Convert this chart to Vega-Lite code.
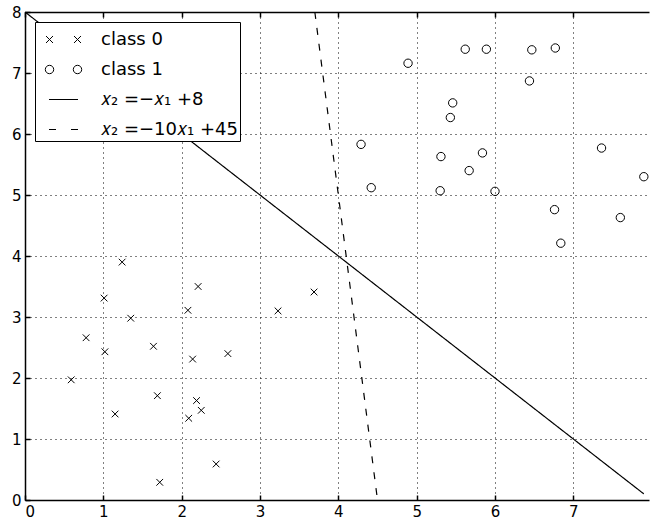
{
  "$schema": "https://vega.github.io/schema/vega-lite/v6.json",
  "width": 624,
  "height": 488,
  "autosize": {"type": "none"},
  "padding": {"left": 25, "top": 12, "right": 1, "bottom": 24},
  "background": "white",
  "config": {
    "view": {"stroke": null},
    "axis": {
      "domainColor": "black",
      "domainWidth": 1.5,
      "tickColor": "black",
      "tickWidth": 1.5,
      "tickSize": -5,
      "labelColor": "black",
      "labelFont": "DejaVu Sans",
      "labelFontSize": 15,
      "labelPadding": 9,
      "gridColor": "black",
      "gridDash": [1, 4],
      "gridOpacity": 1,
      "gridWidth": 1
    }
  },
  "datasets": {
    "samples": [
      {"x1": 1.24, "x2": 3.9, "cls": "class 0"},
      {"x1": 1.01, "x2": 3.31, "cls": "class 0"},
      {"x1": 2.21, "x2": 3.5, "cls": "class 0"},
      {"x1": 2.08, "x2": 3.11, "cls": "class 0"},
      {"x1": 3.23, "x2": 3.1, "cls": "class 0"},
      {"x1": 3.69, "x2": 3.41, "cls": "class 0"},
      {"x1": 1.35, "x2": 2.98, "cls": "class 0"},
      {"x1": 0.78, "x2": 2.66, "cls": "class 0"},
      {"x1": 1.02, "x2": 2.43, "cls": "class 0"},
      {"x1": 1.64, "x2": 2.52, "cls": "class 0"},
      {"x1": 2.14, "x2": 2.31, "cls": "class 0"},
      {"x1": 2.59, "x2": 2.4, "cls": "class 0"},
      {"x1": 0.59, "x2": 1.97, "cls": "class 0"},
      {"x1": 1.69, "x2": 1.71, "cls": "class 0"},
      {"x1": 1.15, "x2": 1.41, "cls": "class 0"},
      {"x1": 2.19, "x2": 1.63, "cls": "class 0"},
      {"x1": 2.25, "x2": 1.47, "cls": "class 0"},
      {"x1": 2.09, "x2": 1.34, "cls": "class 0"},
      {"x1": 2.44, "x2": 0.59, "cls": "class 0"},
      {"x1": 1.72, "x2": 0.29, "cls": "class 0"},
      {"x1": 4.89, "x2": 7.16, "cls": "class 1"},
      {"x1": 5.62, "x2": 7.39, "cls": "class 1"},
      {"x1": 5.89, "x2": 7.39, "cls": "class 1"},
      {"x1": 6.47, "x2": 7.38, "cls": "class 1"},
      {"x1": 6.77, "x2": 7.41, "cls": "class 1"},
      {"x1": 6.44, "x2": 6.87, "cls": "class 1"},
      {"x1": 5.46, "x2": 6.51, "cls": "class 1"},
      {"x1": 5.43, "x2": 6.27, "cls": "class 1"},
      {"x1": 4.29, "x2": 5.83, "cls": "class 1"},
      {"x1": 5.31, "x2": 5.63, "cls": "class 1"},
      {"x1": 5.84, "x2": 5.69, "cls": "class 1"},
      {"x1": 5.67, "x2": 5.4, "cls": "class 1"},
      {"x1": 4.42, "x2": 5.12, "cls": "class 1"},
      {"x1": 5.3, "x2": 5.07, "cls": "class 1"},
      {"x1": 6.0, "x2": 5.06, "cls": "class 1"},
      {"x1": 7.36, "x2": 5.77, "cls": "class 1"},
      {"x1": 7.9, "x2": 5.3, "cls": "class 1"},
      {"x1": 6.76, "x2": 4.76, "cls": "class 1"},
      {"x1": 7.6, "x2": 4.63, "cls": "class 1"},
      {"x1": 6.84, "x2": 4.21, "cls": "class 1"}
    ],
    "boundaries": [
      {"x1": 0, "x2": 8, "eq": "𝑥₂ =−𝑥₁ +8"},
      {"x1": 7.9, "x2": 0.1, "eq": "𝑥₂ =−𝑥₁ +8"},
      {"x1": 3.7, "x2": 8, "eq": "𝑥₂ =−10𝑥₁ +45"},
      {"x1": 4.5, "x2": 0, "eq": "𝑥₂ =−10𝑥₁ +45"}
    ],
    "entries": [
      {"entry": "class 0"},
      {"entry": "class 1"},
      {"entry": "𝑥₂ =−𝑥₁ +8"},
      {"entry": "𝑥₂ =−10𝑥₁ +45  "}
    ]
  },
  "resolve": {"axis": {"x": "independent"}},
  "layer": [
    {
      "data": {"name": "boundaries"},
      "mark": {"type": "line", "color": "black", "strokeWidth": 1.2},
      "encoding": {
        "x": {
          "field": "x1", "type": "quantitative",
          "scale": {"domain": [0, 7.966], "nice": false, "zero": false},
          "axis": {"orient": "top", "labels": false, "grid": false, "values": [0, 1, 2, 3, 4, 5, 6, 7], "title": null}
        },
        "y": {
          "field": "x2", "type": "quantitative",
          "scale": {"domain": [0, 8], "nice": false, "zero": false},
          "axis": {"values": [0, 1, 2, 3, 4, 5, 6, 7, 8], "format": "d", "grid": true, "title": null}
        },
        "strokeDash": {
          "field": "eq", "type": "nominal",
          "scale": {"domain": ["𝑥₂ =−𝑥₁ +8", "𝑥₂ =−10𝑥₁ +45"], "range": [[1, 0], [7, 9]]},
          "legend": null
        }
      }
    },
    {
      "data": {"name": "samples"},
      "transform": [{"filter": "datum.cls === 'class 0'"}],
      "mark": {"type": "point", "shape": "M-0.8,-0.8L0.8,0.8M-0.8,0.8L0.8,-0.8", "filled": false, "stroke": "black", "strokeWidth": 1, "size": 70, "opacity": 1},
      "encoding": {
        "x": {
          "field": "x1", "type": "quantitative",
          "scale": {"domain": [0, 7.966], "nice": false, "zero": false},
          "axis": {"orient": "bottom", "grid": true, "values": [0, 1, 2, 3, 4, 5, 6, 7], "format": "d", "title": null}
        },
        "y": {
          "field": "x2", "type": "quantitative",
          "scale": {"domain": [0, 8], "nice": false, "zero": false},
          "axis": {"values": [0, 1, 2, 3, 4, 5, 6, 7, 8], "format": "d", "grid": true, "title": null}
        }
      }
    },
    {
      "data": {"name": "samples"},
      "transform": [{"filter": "datum.cls === 'class 1'"}],
      "mark": {"type": "point", "shape": "circle", "filled": false, "stroke": "black", "strokeWidth": 1, "size": 70, "opacity": 1},
      "encoding": {
        "x": {"field": "x1", "type": "quantitative", "axis": null},
        "y": {
          "field": "x2", "type": "quantitative",
          "axis": {"values": [0, 1, 2, 3, 4, 5, 6, 7, 8], "format": "d", "grid": true, "title": null}
        }
      }
    },
    {
      "data": {"name": "entries"},
      "mark": {"type": "point", "filled": false, "stroke": "black", "strokeWidth": 1, "opacity": 0},
      "encoding": {
        "shape": {
          "field": "entry", "type": "nominal",
          "scale": {
            "domain": ["class 0", "class 1", "𝑥₂ =−𝑥₁ +8", "𝑥₂ =−10𝑥₁ +45  "],
            "range": [
              "M-1.166,-0.233L-0.7,0.233M-1.166,0.233L-0.7,-0.233M0.7,-0.233L1.166,0.233M0.7,0.233L1.166,-0.233",
              "M-1.213,0A0.28 0.28 0 1 0 -0.653,0A0.28 0.28 0 1 0 -1.213,0ZM0.653,0A0.28 0.28 0 1 0 1.213,0A0.28 0.28 0 1 0 0.653,0Z",
              "M-0.967,0L0.967,0",
              "M-0.967,0L-0.5,0M0.5,0L0.967,0"
            ]
          },
          "legend": {
            "title": null,
            "orient": "top-left",
            "offset": 10,
            "padding": 2,
            "symbolOffset": 11,
            "labelOffset": 22,
            "rowPadding": 5,
            "symbolSize": 900,
            "symbolOpacity": 1,
            "symbolStrokeWidth": 1,
            "symbolStrokeColor": "black",
            "symbolFillColor": "transparent",
            "labelFont": "DejaVu Sans",
            "labelFontSize": 18,
            "labelColor": "black",
            "fillColor": "white",
            "strokeColor": "black"
          }
        }
      }
    }
  ]
}
